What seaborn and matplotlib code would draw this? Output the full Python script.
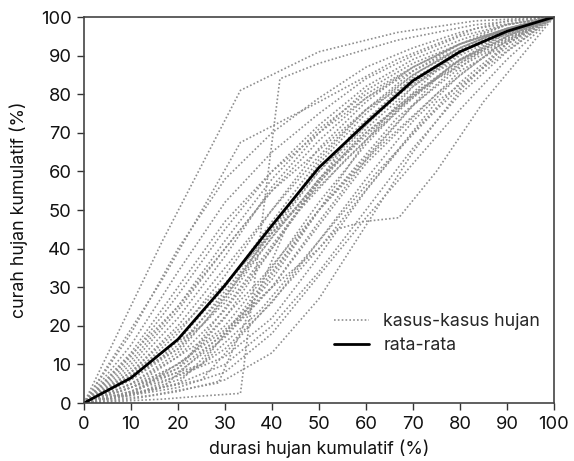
import numpy as np
import pandas as pd
import matplotlib
matplotlib.use("Agg")
import matplotlib.pyplot as plt
from matplotlib.lines import Line2D
import seaborn as sns

# --- cumulative rainfall curves (x: % of storm duration, y: % of storm depth) ---
grid10 = [0, 10, 20, 30, 40, 50, 60, 70, 80, 90, 100]
thirds6 = [0, 16.7, 33.3, 50, 66.7, 83.3, 100]
quarters = [0, 25, 50, 75, 100]
fifths = [0, 20, 40, 60, 80, 100]
sevenths = [0, 14.3, 28.6, 42.9, 57.1, 71.4, 85.7, 100]
eighths = [0, 12.5, 25, 37.5, 50, 62.5, 75, 87.5, 100]
ninths = [0, 11.1, 22.2, 33.3, 44.4, 55.6, 66.7, 77.8, 88.9, 100]
twelfths = [0, 8.3, 16.7, 25, 33.3, 41.7, 50, 58.3, 66.7, 75, 83.3, 91.7, 100]

kasus_x = [
    grid10, grid10, grid10, grid10, grid10, grid10, grid10, grid10,
    grid10, grid10, grid10, grid10, grid10, grid10, grid10, grid10,
    grid10, grid10, grid10, grid10, grid10, grid10, grid10, grid10,
    thirds6, thirds6, thirds6, thirds6,
    twelfths,
    sevenths,
    [0, 10, 20, 30, 40, 50, 53.8, 59.4, 67, 75, 85, 100],
    quarters, quarters, quarters,
    fifths, fifths, fifths,
    eighths, eighths,
    ninths,
]
kasus_y = [
    [0, 12, 28, 45, 60, 72, 82, 89, 94, 98, 100],
    [0, 10, 24, 40, 55, 68, 79, 87, 93, 97, 100],
    [0, 8, 20, 35, 50, 64, 76, 85, 92, 97, 100],
    [0, 6, 15, 28, 44, 60, 73, 84, 91, 96, 100],
    [0, 5, 12, 24, 40, 57, 71, 82, 90, 96, 100],
    [0, 4, 10, 20, 35, 52, 67, 80, 89, 95, 100],
    [0, 3, 8, 17, 30, 47, 63, 77, 88, 95, 100],
    [0, 2, 6, 14, 26, 42, 58, 73, 85, 94, 100],
    [0, 7, 18, 33, 50, 66, 78, 87, 93, 97, 100],
    [0, 9, 22, 38, 56, 70, 81, 88, 93, 97, 100],
    [0, 15, 34, 52, 65, 75, 84, 90, 95, 98, 100],
    [0, 18, 40, 58, 70, 79, 87, 92, 96, 99, 100],
    [0, 4, 9, 18, 32, 50, 68, 82, 91, 97, 100],
    [0, 3, 7, 12, 22, 38, 55, 70, 83, 93, 100],
    [0, 2, 5, 10, 20, 34, 50, 66, 80, 91, 100],
    [0, 6, 14, 26, 43, 58, 70, 80, 88, 95, 100],
    [0, 11, 25, 42, 58, 71, 80, 87, 93, 97, 100],
    [0, 5, 13, 27, 45, 62, 75, 85, 92, 97, 100],
    [0, 3, 9, 22, 40, 58, 72, 83, 91, 96, 100],
    [0, 2, 4, 8, 18, 33, 48, 62, 76, 89, 100],
    [0, 7, 16, 30, 47, 63, 76, 86, 93, 98, 100],
    [0, 13, 30, 47, 60, 70, 79, 86, 92, 97, 100],
    [0, 8, 19, 31, 44, 56, 68, 79, 89, 96, 100],
    [0, 1, 3, 6, 13, 27, 46, 65, 81, 93, 100],
    [0, 42, 81, 91, 96, 99, 100],
    [0, 32, 67.5, 78, 89, 97, 100],
    [0, 12, 35, 60, 80, 93, 100],
    [0, 4, 22, 50, 74, 90, 100],
    [0, 0.5, 1, 1.8, 2.5, 84, 88, 91, 94, 96, 98, 99, 100],
    [0, 2, 5.2, 45, 70, 86, 95, 100],
    [0, 4, 10, 19, 30, 40, 45, 47, 48, 60, 78, 100],
    [0, 20, 58, 86, 100],
    [0, 10, 50, 84, 100],
    [0, 6, 40, 78, 100],
    [0, 25, 55, 76, 91, 100],
    [0, 14, 44, 70, 89, 100],
    [0, 5, 30, 62, 86, 100],
    [0, 6, 16, 32, 50, 66, 80, 92, 100],
    [0, 3, 10, 24, 42, 60, 76, 90, 100],
    [0, 3, 12, 30, 48, 63, 76, 87, 95, 100],
]

# average curve
rata_x = [0, 10, 20, 30, 40, 50, 60, 70, 80, 90, 100]
rata_y = [0, 6.5, 16.5, 30.5, 46, 61, 72.5, 83.5, 91, 96.3, 100]

rows = []
for k, (xs, ys) in enumerate(zip(kasus_x, kasus_y)):
    for xv, yv in zip(xs, ys):
        rows.append({"kasus": k, "durasi": xv, "curah": yv})
df_kasus = pd.DataFrame(rows)
df_rata = pd.DataFrame({"durasi": rata_x, "curah": rata_y})

sns.set_theme(style="white")
plt.rcParams["font.family"] = ["Inter", "DejaVu Sans"]

fig = plt.figure(figsize=(5.74, 4.61), dpi=100)
ax = fig.add_axes([0.1463, 0.1258, 0.8187, 0.8373])

dot_gray = "#8f8f8f"
dots = (0, (1, 1.3))
sns.lineplot(data=df_kasus, x="durasi", y="curah", units="kasus", estimator=None,
             color=dot_gray, linewidth=1.2, linestyle=dots, ax=ax, legend=False)
sns.lineplot(data=df_rata, x="durasi", y="curah", color="black", linewidth=2.0,
             ax=ax, legend=False)

ax.set_xlim(0, 100)
ax.set_ylim(0, 100)
ax.set_xticks(range(0, 101, 10))
ax.set_yticks(range(0, 101, 10))
ax.tick_params(axis="both", which="major", direction="out", length=5, width=1,
               color="#333333", labelsize=13.2, labelcolor="#111111", pad=4,
               bottom=True, left=True)
for s in ax.spines.values():
    s.set_visible(True)
    s.set_color("#444444")
    s.set_linewidth(1.2)

ax.set_xlabel("durasi hujan kumulatif (%)", fontsize=12.8, color="#111111", labelpad=5)
ax.set_ylabel("curah hujan kumulatif (%)", fontsize=12.8, color="#111111", labelpad=9)

handles = [
    Line2D([], [], color=dot_gray, linewidth=1.2, linestyle=dots),
    Line2D([], [], color="black", linewidth=2.0),
]
ax.legend(handles, ["kasus-kasus hujan", "rata-rata"], loc="lower right",
          bbox_to_anchor=(1.005, 0.085), frameon=False, fontsize=12.8,
          handlelength=2.0, handletextpad=0.8, labelspacing=0.4)

fig.savefig("out.png", dpi=100)
